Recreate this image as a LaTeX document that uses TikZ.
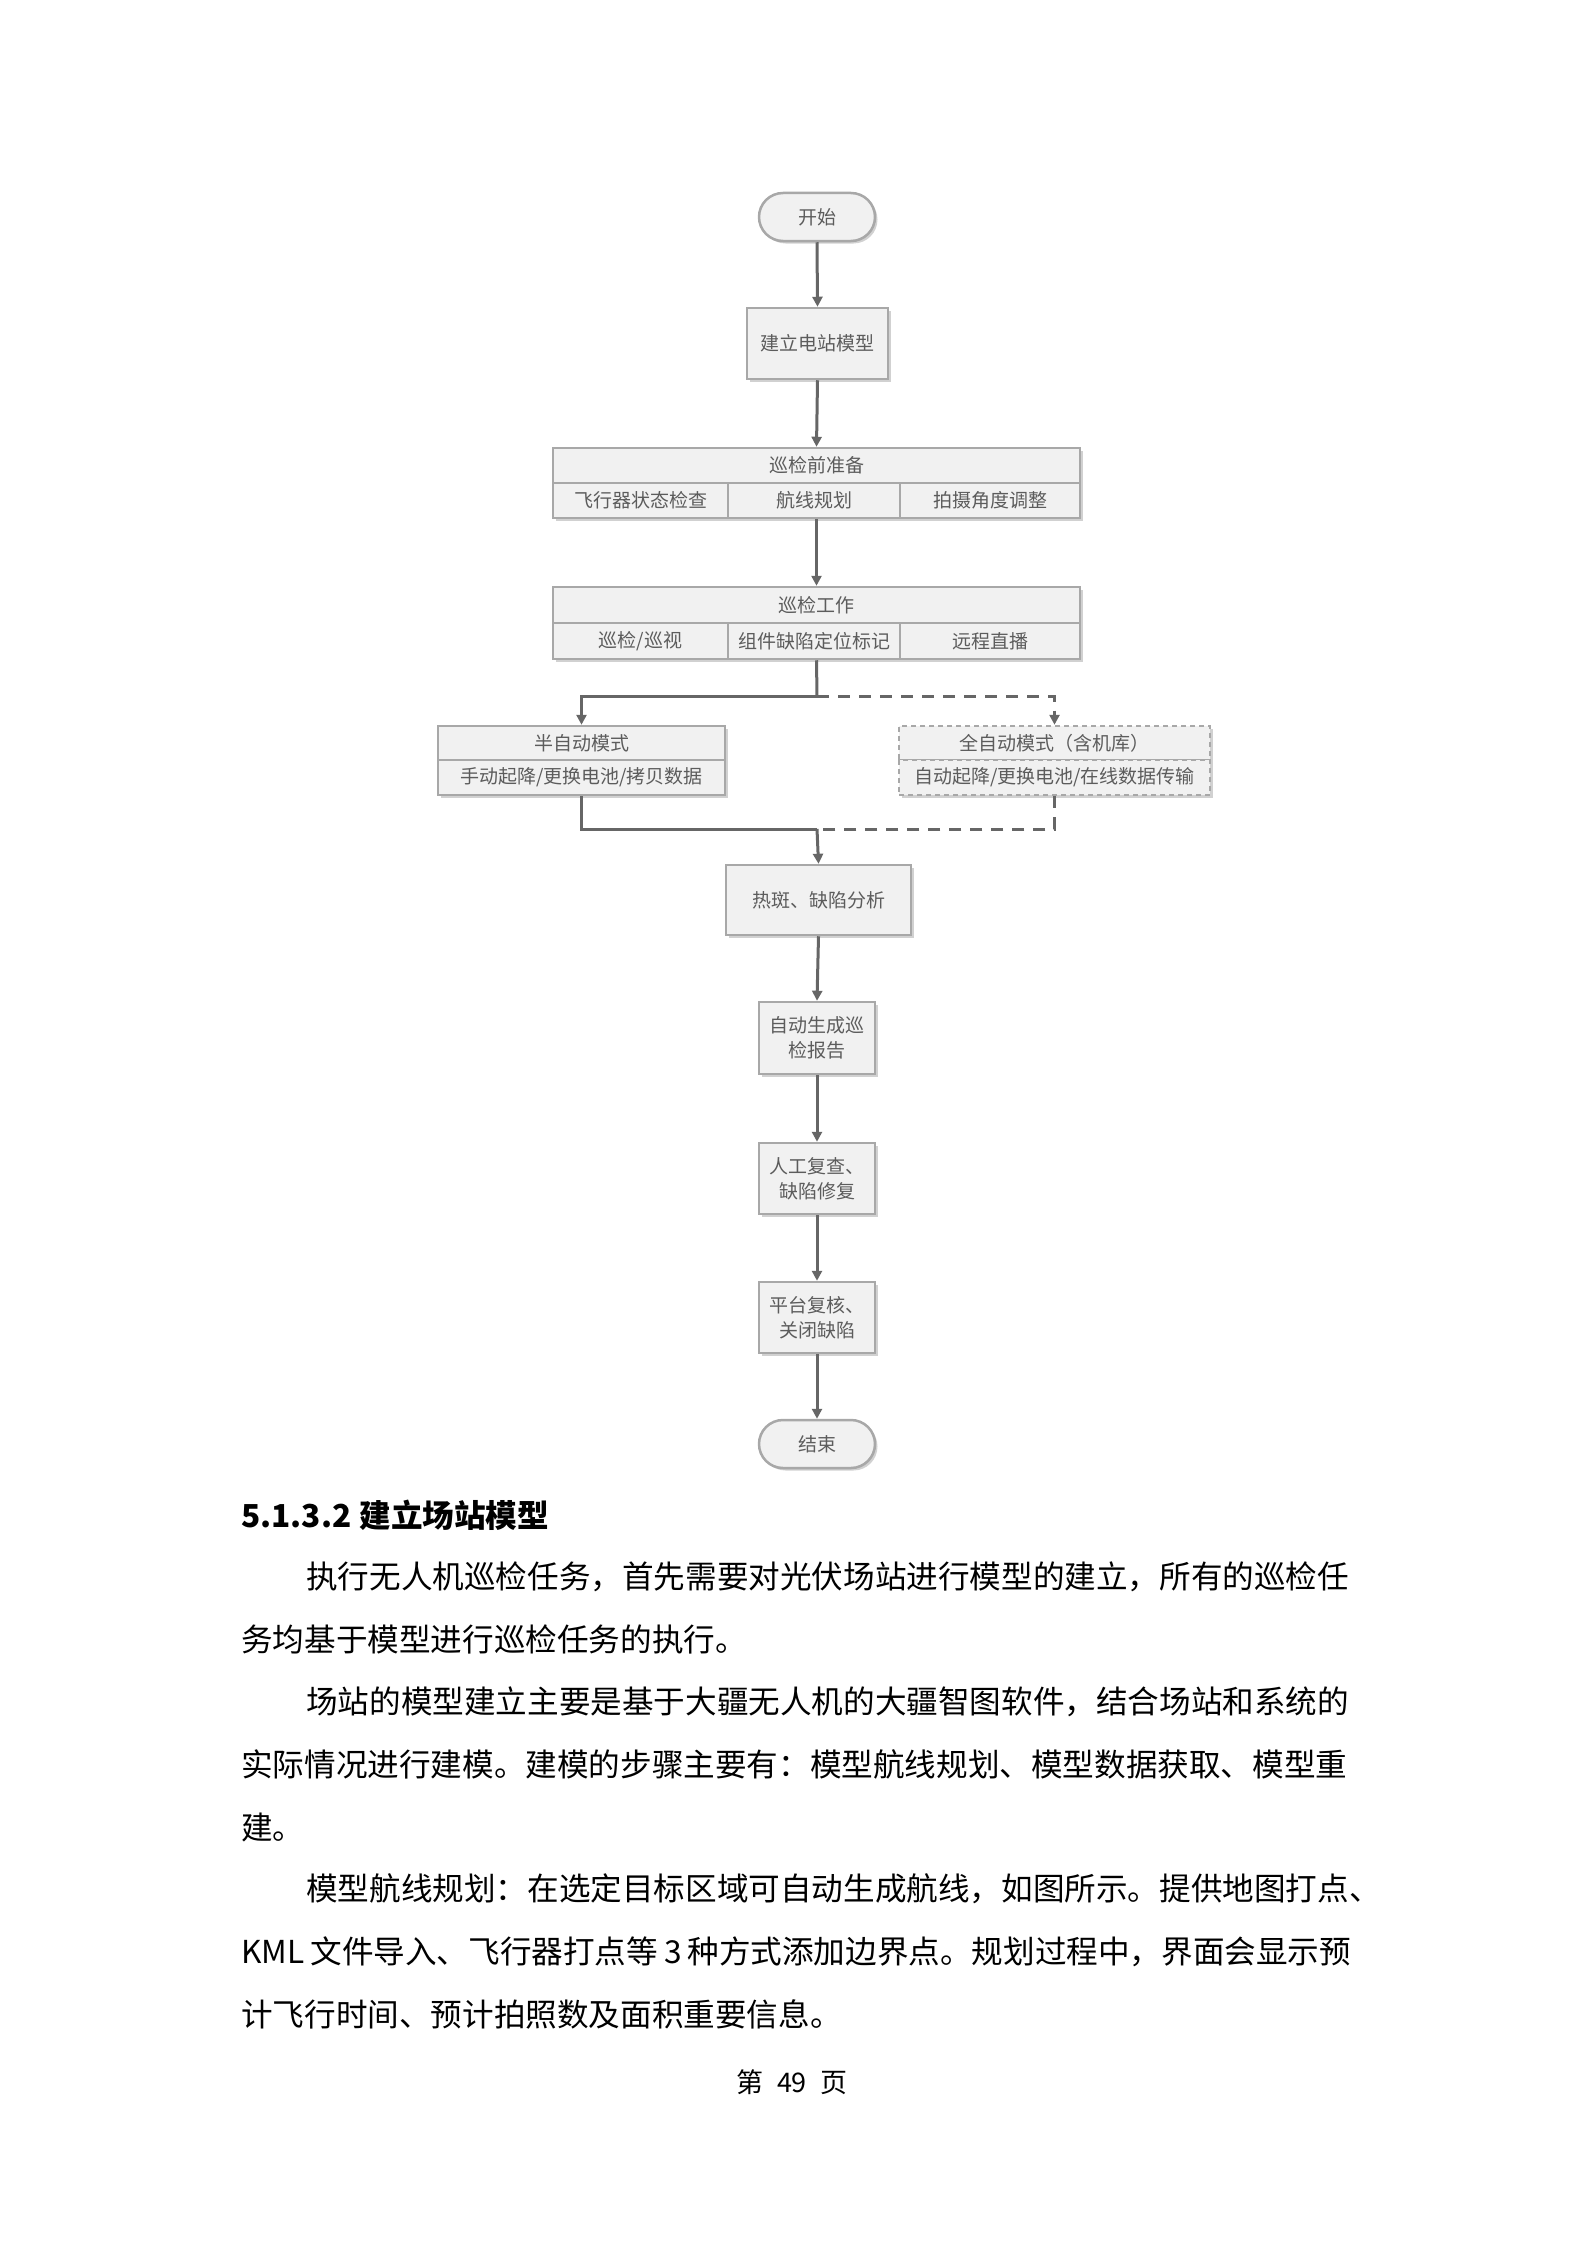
\documentclass[tikz,border=0pt]{standalone}
\usepackage{fontspec}
\newfontfamily\cjk{Noto Sans CJK SC}
\usetikzlibrary{arrows.meta,shadows}
\definecolor{boxline}{HTML}{A8A8A8}
\definecolor{boxfill}{HTML}{F1F1F1}
\definecolor{boxtxt}{HTML}{5C5C5C}
\definecolor{conn}{HTML}{666666}
\newcommand\dgfont{\cjk\fontsize{19}{25}\selectfont}
\newcommand\bodyfont{\cjk\fontsize{31.6}{40}\selectfont}
\tikzset{
  box/.style={draw=boxline, line width=2.5pt, fill=boxfill, inner sep=0pt,
    font=\dgfont, text=boxtxt, align=center,
    drop shadow={shadow xshift=2.5pt, shadow yshift=-2.5pt, fill=black!18, opacity=1}},
  term/.style={box, rounded corners=24pt},
  cell/.style={draw=boxline, line width=2pt, fill=boxfill, inner sep=0pt,
    font=\dgfont, text=boxtxt, align=center},
  dcell/.style={cell, dash pattern=on 5pt off 4pt},
  conn/.style={draw=conn, line width=3pt},
  arr/.style={conn, -{Triangle[length=10pt,width=10pt]}},
  dsh/.style={dash pattern=on 12pt off 9pt},
  body/.style={anchor=west, inner sep=0pt, font=\bodyfont, text=black},
}
\begin{document}
\begin{tikzpicture}[x=1pt,y=-1pt]
\useasboundingbox (0,0) rectangle (1588,2245);

% nodes
\node[term, minimum width=116pt, minimum height=48pt] (start) at (817,217) {开始};
\node[box, minimum width=141pt, minimum height=71pt] (model) at (817.5,343.5) {建立电站模型};

\node[box, minimum width=527pt, minimum height=70pt] (prep) at (816.5,483) {};
\node[cell, minimum width=527pt, minimum height=35pt] (prepH) at (816.5,465.5) {巡检前准备};
\node[cell, minimum width=175pt, minimum height=35pt] (prep1) at (640.5,500.5) {飞行器状态检查};
\node[cell, minimum width=172pt, minimum height=35pt] (prep2) at (814,500.5) {航线规划};
\node[cell, minimum width=180pt, minimum height=35pt] (prep3) at (990,500.5) {拍摄角度调整};

\node[box, minimum width=527pt, minimum height=72pt] (work) at (816.5,623) {};
\node[cell, minimum width=527pt, minimum height=36pt] (workH) at (816.5,605) {巡检工作};
\node[cell, minimum width=175pt, minimum height=36pt] (work1) at (640.5,641) {巡检/巡视};
\node[cell, minimum width=172pt, minimum height=36pt] (work2) at (814,641) {组件缺陷定位标记};
\node[cell, minimum width=180pt, minimum height=36pt] (work3) at (990,641) {远程直播};

\node[box, minimum width=287pt, minimum height=69pt] (semi) at (581.5,760.5) {};
\node[cell, minimum width=287pt, minimum height=34pt] (semiH) at (581.5,743) {半自动模式};
\node[cell, minimum width=287pt, minimum height=35pt] (semi1) at (581.5,777.5) {手动起降/更换电池/拷贝数据};

\node[box, draw=none, minimum width=311pt, minimum height=69pt] (full) at (1054.5,760.5) {};
\node[dcell, minimum width=311pt, minimum height=34pt] (fullH) at (1054.5,743) {全自动模式（含机库）};
\node[dcell, minimum width=311pt, minimum height=35pt] (full1) at (1054.5,777.5) {自动起降/更换电池/在线数据传输};

\node[box, minimum width=185pt, minimum height=70pt] (heat) at (818.5,900) {热斑、缺陷分析};
\node[box, minimum width=116pt, minimum height=72pt] (report) at (817,1038) {自动生成巡\\检报告};
\node[box, minimum width=116pt, minimum height=71pt] (review) at (817,1178.5) {人工复查、\\缺陷修复};
\node[box, minimum width=116pt, minimum height=71pt] (platform) at (817,1317.5) {平台复核、\\关闭缺陷};
\node[term, minimum width=116pt, minimum height=48pt] (end) at (817,1444) {结束};

% connectors
\coordinate (split) at (817,696);
\coordinate (merge) at (817,829);
\draw[arr] (start.south) -- (model.north);
\draw[arr] (model.south) -- (prep.north);
\draw[arr] (prep.south) -- (work.north);
\draw[conn] (work.south) -- (split);
\draw[arr] (split) -| (semi.north);
\draw[arr, dsh] (split) -| (full.north);
\draw[conn] (semi.south) |- (merge);
\draw[conn, dsh] (full.south) |- (merge);
\draw[arr] (merge) -- (heat.north);
\draw[arr] (heat.south) -- (report.north);
\draw[arr] (report.south) -- (review.north);
\draw[arr] (review.south) -- (platform.north);
\draw[arr] (platform.south) -- (end.north);

% text below
\node[body, font=\bodyfont\bfseries] (head) at (241,1515) {5.1.3.2\hspace{8pt}建立场站模型};
\node[body] (l1) at (306,1577) {执行无人机巡检任务，首先需要对光伏场站进行模型的建立，所有的巡检任};
\node[body] (l2) at (241,1639) {务均基于模型进行巡检任务的执行。};
\node[body] (l3) at (306,1702) {场站的模型建立主要是基于大疆无人机的大疆智图软件，结合场站和系统的};
\node[body] (l4) at (241,1764) {实际情况进行建模。建模的步骤主要有：模型航线规划、模型数据获取、模型重};
\node[body] (l5) at (241,1827) {建。};
\node[body] (l6) at (306,1889) {模型航线规划：在选定目标区域可自动生成航线，如图所示。提供地图打点、};
\node[body] (l7) at (241,1952) {KML\hspace{6pt}文件导入、飞行器打点等\hspace{6pt}3\hspace{6pt}种方式添加边界点。规划过程中，界面会显示预};
\node[body] (l8) at (241,2014) {计飞行时间、预计拍照数及面积重要信息。};
\node[inner sep=0pt, font=\cjk\fontsize{27}{32}\selectfont] (page) at (792,2082) {第\hspace{14pt}49\hspace{14pt}页};
\end{tikzpicture}
\end{document}
